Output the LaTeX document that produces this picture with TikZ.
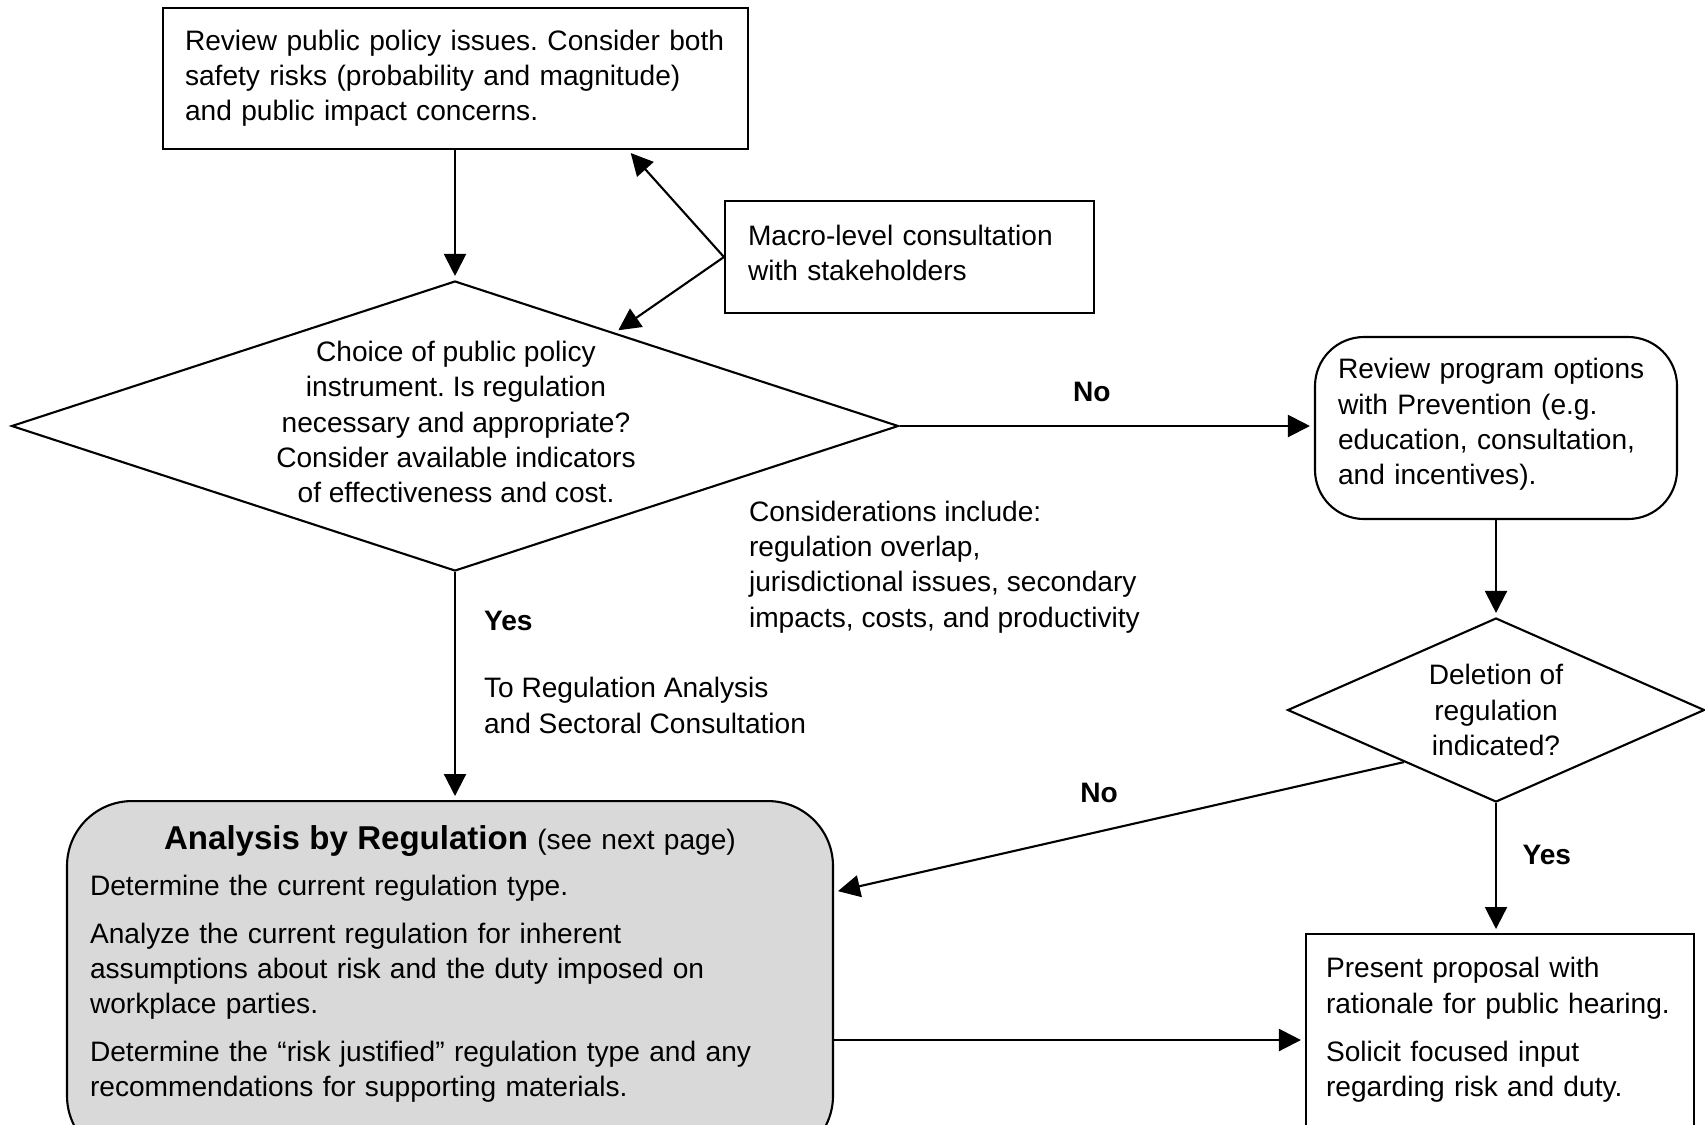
\documentclass[tikz,border=0pt]{standalone}
\usepackage{fontspec}
\setmainfont{Liberation Sans}
\usetikzlibrary{arrows.meta,positioning,calc,shapes.geometric}
\newcommand{\txtsize}{\fontsize{8pt}{10pt}\selectfont}
\newcommand{\titlesize}{\fontsize{9.4pt}{10pt}\selectfont\bfseries}
\frenchspacing

\begin{document}
\begin{tikzpicture}[x=0.1mm, y=-0.1mm, line width=0.6pt, font=\txtsize,
    box/.style={draw, align=left, inner xsep=2.3mm, inner ysep=0pt},
    roundbox/.style={box, rounded corners=4.9mm},
    decision/.style={draw, diamond, inner sep=0pt},
    lbl/.style={font=\txtsize\bfseries, inner sep=0pt},
    note/.style={align=left, inner sep=0pt},
    arr/.style={-{Triangle[length=2.2mm,width=2.2mm]}, shorten >=0.4mm}]
    \path[use as bounding box, clip] (0,0) rectangle (1705,1124);

    \node[box, text width=54.1mm, inner xsep=2.2mm, minimum width=58.5mm, minimum height=14.1mm] (topbox) at (455.5,78.5)
        {Review public policy issues. Consider both\\ safety risks (probability and magnitude)\\ and public impact concerns.};
    \node[box, text width=32.3mm, minimum width=36.9mm, minimum height=11.2mm] (macro) at (909.5,257)
        {Macro-level consultation\\ with stakeholders\rule[-0.9mm]{0pt}{0.9mm}};

    \node[decision, minimum width=88.7mm, minimum height=29mm] (choice) at (455,426) {};
    \node[align=center] (choicetxt) at (456,422)
        {Choice of public policy\\ instrument. Is regulation\\ necessary and appropriate?\\ Consider available indicators\\ of effectiveness and cost.};

    \node[roundbox, text width=31.6mm, minimum width=36.2mm, minimum height=18.2mm] (prevbox) at (1496,428)
        {Review program options\\ with Prevention (e.g.\\ education, consultation,\\ and incentives).\rule[-1.3mm]{0pt}{1.3mm}};
    \node[decision, minimum width=41.7mm, minimum height=18.4mm] (delete) at (1496,710) {};
    \node[align=center] (deletetxt) at (delete) {Deletion of\\ regulation\\ indicated?};

    \node[note, anchor=west] (consid) at (748,567)
        {Considerations include:\\ regulation overlap,\\ jurisdictional issues, secondary\\ impacts, costs, and productivity};

    \node[box, rounded corners=6.5mm, fill=gray!30, text width=72mm, inner ysep=2.4mm, anchor=north] (analysis) at (450,800)
        {\hfill{\titlesize Analysis by Regulation} (see next page)\hfill\null\\[3.1pt]
         Determine the current regulation type.\\[3.7pt]
         Analyze the current regulation for inherent\\ assumptions about risk and the duty imposed on\\ workplace parties.\\[3.7pt]
         Determine the “risk justified” regulation type and any\\ recommendations for supporting materials.\rule[-4mm]{0pt}{4mm}};
    \node[box, text width=34.8mm, inner xsep=2mm, inner ysep=2.35mm, anchor=north] (result) at (1500,933)
        {Present proposal with\\ rationale for public hearing.\\[3.7pt]
         Solicit focused input\\ regarding risk and duty.\rule[-4.25mm]{0pt}{4.25mm}};

    \coordinate (noy) at (0,892);
    \coordinate (outy) at (0,1040);

    \draw[arr] (choice.north |- topbox.south) -- (choice.north);
    \draw[arr] (macro.west) -- ($(topbox.south east)+(-121,0)$);
    \draw[arr] (macro.west) -- ($(choice.north)!0.36!(choice.east)$);
    \draw[arr] (choice.east) -- node[lbl, pos=0.464, above=2.3mm] {No} (choice.east -| prevbox.west);
    \draw[arr] (choice.south) -- node[lbl, pos=0.214, right=2.8mm] {Yes}
        node[note, pos=0.585, right=2.8mm] {To Regulation Analysis\\ and Sectoral Consultation} (choice.south |- analysis.north);
    \draw[arr] (prevbox.south) -- (prevbox.south |- delete.north);
    \draw[arr] ($(delete.west)!0.56!(delete.south)$) -- node[lbl, pos=0.535, above=2.8mm] {No} (analysis.east |- noy);
    \draw[arr] (delete.south) -- node[lbl, pos=0.4, right=2.55mm] {Yes} (delete.south |- result.north);
    \draw[arr] (analysis.east |- outy) -- (result.west |- outy);
\end{tikzpicture}
\end{document}
